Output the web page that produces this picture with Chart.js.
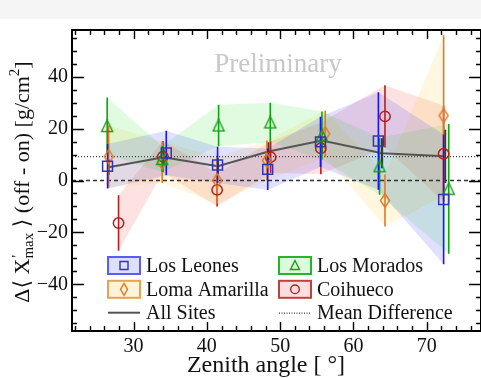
<!DOCTYPE html>
<html><head><meta charset="utf-8">
<script src="https://cdn.jsdelivr.net/npm/chart.js@4"></script>
<style>html,body{margin:0;padding:0;background:#fff}canvas{display:block}</style>
</head><body>
<canvas id="c" width="481" height="378"></canvas>
<script>
// ---- data ----
const xTicks = [30, 40, 50, 60, 70];
const yTicks = [-40, -20, 0, 20, 40];

const llX = [26.45, 34.46, 41.46, 48.3, 55.5, 63.4, 72.3];
const llY = [5.5, 10.6, 6.0, 4.3, 14.9, 15.2, -7.3];
const llE = [8.6, 8.6, 7.0, 8.0, 9.7, 18.8, 25];

const lmX = [26.4, 33.9, 41.6, 48.65, 55.7, 63.56, 73.0];
const lmY = [21.0, 8.3, 21.2, 22.4, 17.3, 5.5, -3.2];
const lmE = [11, 5, 8, 7.6, 9.3, 11, 25];

const laX = [26.6, 33.9, 41.4, 48.2, 56.15, 64.3, 72.3];
const laY = [9.2, 7.0, 0.0, 7.7, 18.0, -7.7, 25.0];
const laE = [12, 8, 9, 7.7, 9, 10, 31];

const coX = [27.95, 34.0, 41.4, 48.7, 55.55, 64.3, 72.3];
const coY = [-16.4, 9.2, -3.6, 9.0, 12.4, 24.7, 10.3];
const coE = [10.7, 6, 6.4, 6, 10, 12, 18.5];

const allX = [26.6, 34.1, 41.5, 48.4, 55.7, 63.9, 72.5];
const allY = [5.1, 9.0, 5.5, 11.2, 15.4, 10.5, 9.3];
const allE = [3, 3, 3, 3.5, 4.5, 5.8, 10.3];

const meanDiff = 9.2;
const xMin = 21.6, xMax = 77.4, yMin = -58, yMax = 58;

// ---- helpers ----
const pts = (xs, ys) => xs.map((x, i) => ({x, y: ys[i]}));
const band = (xs, ys, es, s) => xs.map((x, i) => ({x, y: ys[i] + s * es[i]}));
const errs = (xs, ys, es) => {
  const d = [];
  xs.forEach((x, i) => { d.push({x, y: ys[i] - es[i]}, {x, y: ys[i] + es[i]}, {x, y: null}); });
  return d;
};
function diamondImg(color) {
  const c = document.createElement('canvas'); c.width = 12; c.height = 17;
  const g = c.getContext('2d'); g.strokeStyle = color; g.lineWidth = 1.4;
  g.beginPath(); g.moveTo(6, 1.5); g.lineTo(10.5, 8.5); g.lineTo(6, 15.5); g.lineTo(1.5, 8.5); g.closePath(); g.stroke();
  return c;
}
function triImg(color) {
  const c = document.createElement('canvas'); c.width = 14; c.height = 14;
  const g = c.getContext('2d'); g.strokeStyle = color; g.lineWidth = 1.4;
  g.beginPath(); g.moveTo(7, 1); g.lineTo(12.5, 12.5); g.lineTo(1.5, 12.5); g.closePath(); g.stroke();
  return c;
}

const C = {
  ll: {mk: '#3434b0', bar: '#1414ff', fill: 'rgba(40,40,255,0.14)'},
  lm: {mk: '#14a014', bar: '#14a014', fill: 'rgba(40,230,40,0.14)'},
  la: {mk: '#e07a22', bar: '#e07a22', fill: 'rgba(255,205,70,0.17)'},
  co: {mk: '#b42020', bar: '#b42020', fill: 'rgba(240,60,60,0.15)'},
};

const datasets = [];
function addSite(key, xs, ys, es, style, radius, imgFn) {
  const c = C[key];
  datasets.push({data: band(xs, ys, es, 1), borderWidth: 0, pointRadius: 0, fill: '+1', backgroundColor: c.fill, order: 20});
  datasets.push({data: band(xs, ys, es, -1), borderWidth: 0, pointRadius: 0, fill: false, order: 20});
  datasets.push({data: errs(xs, ys, es), borderColor: c.bar, borderWidth: 1.6, pointRadius: 0, spanGaps: false, fill: false, order: 3});
  datasets.push({data: pts(xs, ys), showLine: false, pointStyle: imgFn ? imgFn(c.mk) : style, pointRadius: radius,
    borderColor: c.mk, backgroundColor: 'rgba(0,0,0,0)', pointBorderWidth: 1.5, order: 1});
}
addSite('ll', llX, llY, llE, 'rect', 7);
addSite('lm', lmX, lmY, lmE, null, 7, triImg);
addSite('la', laX, laY, laE, null, 7, diamondImg);
addSite('co', coX, coY, coE, 'circle', 5.2);

// reference lines
datasets.push({data: [{x: xMin, y: 0}, {x: xMax, y: 0}], borderColor: '#333', borderWidth: 1.3, borderDash: [4, 3], pointRadius: 0, order: 8});
datasets.push({data: [{x: xMin, y: meanDiff}, {x: xMax, y: meanDiff}], borderColor: '#444', borderWidth: 1.2, borderDash: [1, 2], pointRadius: 0, order: 8});
// all sites
datasets.push({data: pts(allX, allY), borderColor: '#555', borderWidth: 2, pointRadius: 0, order: 5});
datasets.push({data: errs(allX, allY, allE), borderColor: '#3a3a3a', borderWidth: 2.2, pointRadius: 0, spanGaps: false, order: 4});

const SERIF = "'Liberation Serif', 'DejaVu Serif', serif";

const deco = {
  id: 'deco',
  beforeDraw(chart) {
    const ctx = chart.ctx;
    ctx.save();
    ctx.fillStyle = '#fff'; ctx.fillRect(0, 0, chart.width, chart.height);
    ctx.fillStyle = '#f5f5f5'; ctx.fillRect(0, 0, chart.width, 19);
    ctx.restore();
  },
  beforeDatasetsDraw(chart) {
    const ctx = chart.ctx;
    ctx.save();
    ctx.font = '27px ' + SERIF; ctx.fillStyle = '#c8c8c8'; ctx.textAlign = 'center'; ctx.textBaseline = 'alphabetic';
    ctx.fillText('Preliminary', 278, 72);
    ctx.restore();
  },
  afterDatasetsDraw(chart) {
    const ctx = chart.ctx, a = chart.chartArea, xs = chart.scales.x, ys = chart.scales.y;
    ctx.save();
    // frame
    ctx.strokeStyle = '#000'; ctx.lineWidth = 2;
    ctx.strokeRect(a.left, a.top, a.right - a.left, a.bottom - a.top);
    ctx.lineWidth = 1.4;
    ctx.beginPath();
    for (let v = 22; v <= 77; v += 2) {
      const px = Math.round(xs.getPixelForValue(v)) + 0.5;
      const L = v % 10 === 0 ? 9 : 5;
      ctx.moveTo(px, a.bottom); ctx.lineTo(px, a.bottom - L);
      ctx.moveTo(px, a.top); ctx.lineTo(px, a.top + L);
    }
    for (let v = -55; v <= 55; v += 5) {
      const py = Math.round(ys.getPixelForValue(v)) + 0.5;
      const L = v % 20 === 0 ? 12 : 5;
      ctx.moveTo(a.left, py); ctx.lineTo(a.left + L, py);
      ctx.moveTo(a.right, py); ctx.lineTo(a.right - L, py);
    }
    ctx.stroke();

    // legend
    const rows = [265.5, 289.3, 312.7];
    const cols = [108, 279];
    const boxW = 32, boxH = 17;
    const boxes = [
      {c: cols[0], r: rows[0], fill: '#dedeff', bd: '#5a5aff', key: 'll', label: 'Los Leones'},
      {c: cols[1], r: rows[0], fill: '#defade', bd: '#28b428', key: 'lm', label: 'Los Morados'},
      {c: cols[0], r: rows[1], fill: '#fff3d9', bd: '#e8a055', key: 'la', label: 'Loma Amarilla'},
      {c: cols[1], r: rows[1], fill: '#fcdede', bd: '#c04040', key: 'co', label: 'Coihueco'},
    ];
    ctx.font = '20px ' + SERIF; ctx.textBaseline = 'middle'; ctx.textAlign = 'left';
    boxes.forEach(b => {
      ctx.fillStyle = b.fill; ctx.fillRect(b.c, b.r - boxH / 2, boxW, boxH);
      ctx.strokeStyle = b.bd; ctx.lineWidth = 2; ctx.strokeRect(b.c, b.r - boxH / 2, boxW, boxH);
      const cx = b.c + boxW / 2, cy = b.r;
      ctx.strokeStyle = C[b.key].mk; ctx.lineWidth = 1.4; ctx.beginPath();
      if (b.key === 'll') ctx.rect(cx - 4, cy - 4, 8, 8);
      else if (b.key === 'lm') { ctx.moveTo(cx, cy - 5); ctx.lineTo(cx + 4.5, cy + 4); ctx.lineTo(cx - 4.5, cy + 4); ctx.closePath(); }
      else if (b.key === 'la') { ctx.moveTo(cx, cy - 6); ctx.lineTo(cx + 3.5, cy); ctx.lineTo(cx, cy + 6); ctx.lineTo(cx - 3.5, cy); ctx.closePath(); }
      else ctx.arc(cx, cy, 4.3, 0, Math.PI * 2);
      ctx.stroke();
      ctx.fillStyle = '#111'; ctx.fillText(b.label, b.c + boxW + 6, b.r + 1);
    });
    ctx.strokeStyle = '#555'; ctx.lineWidth = 2; ctx.setLineDash([]);
    ctx.beginPath(); ctx.moveTo(cols[0], rows[2]); ctx.lineTo(cols[0] + boxW, rows[2]); ctx.stroke();
    ctx.strokeStyle = '#444'; ctx.lineWidth = 1.2; ctx.setLineDash([1, 1.5]);
    ctx.beginPath(); ctx.moveTo(cols[1], rows[2] + 0.5); ctx.lineTo(cols[1] + boxW, rows[2] + 0.5); ctx.stroke();
    ctx.setLineDash([]);
    ctx.fillStyle = '#111';
    ctx.fillText('All Sites', cols[0] + boxW + 6, rows[2] + 1);
    ctx.fillText('Mean Difference', cols[1] + boxW + 6, rows[2] + 1);

    // x title
    ctx.font = '24px ' + SERIF; ctx.textAlign = 'center'; ctx.textBaseline = 'alphabetic';
    ctx.fillText('Zenith angle [ °]', 266, 372);

    // y title (rotated, with sub/superscripts)
    ctx.translate(29, 182); ctx.rotate(-Math.PI / 2);
    const big = '22px ' + SERIF, small = '15px ' + SERIF;
    const parts = [
      {t: 'Δ⟨ X', f: big, dy: 0}, {t: "'", f: small, dy: -7}, {t: 'max', f: small, dy: 4},
      {t: ' ⟩ (off - on) [g/cm', f: big, dy: 0}, {t: '2', f: small, dy: -10}, {t: ']', f: big, dy: 0},
    ];
    parts.forEach(p => { ctx.font = p.f; p.w = ctx.measureText(p.t).width; });
    parts[1].w = 0;
    const W = parts.reduce((s, p) => s + p.w, 0);
    let x0 = -W / 2;
    ctx.textAlign = 'left';
    parts.forEach(p => { ctx.font = p.f; ctx.fillText(p.t, x0 + (p.t === "'" ? 1 : 0), p.dy); x0 += p.w; });
    ctx.restore();
  }
};

new Chart(document.getElementById('c'), {
  type: 'line',
  data: {datasets},
  options: {
    responsive: false, animation: false, devicePixelRatio: 1,
    layout: {autoPadding: false, padding: {top: 30, right: 0, left: 0, bottom: 0}},
    plugins: {legend: {display: false}, tooltip: {enabled: false}},
    elements: {line: {tension: 0}},
    scales: {
      x: {
        type: 'linear', min: xMin, max: xMax,
        grid: {display: false, drawTicks: false}, border: {display: false},
        afterBuildTicks: s => { s.ticks = xTicks.map(v => ({value: v})); },
        afterFit: s => { s.height = 47; s.paddingLeft = 0; s.paddingRight = 0; },
        ticks: {font: {family: SERIF, size: 20}, color: '#111', padding: 4, maxRotation: 0, autoSkip: false}
      },
      y: {
        type: 'linear', min: yMin, max: yMax,
        grid: {display: false, drawTicks: false}, border: {display: false},
        afterBuildTicks: s => { s.ticks = yTicks.map(v => ({value: v})); },
        afterFit: s => { s.width = 72; s.paddingTop = 0; s.paddingBottom = 0; },
        ticks: {font: {family: SERIF, size: 20}, color: '#111', padding: 4,
          callback: v => String(v).replace('-', '\u2212')}
      }
    }
  },
  plugins: [deco]
});
</script>
</body></html>
